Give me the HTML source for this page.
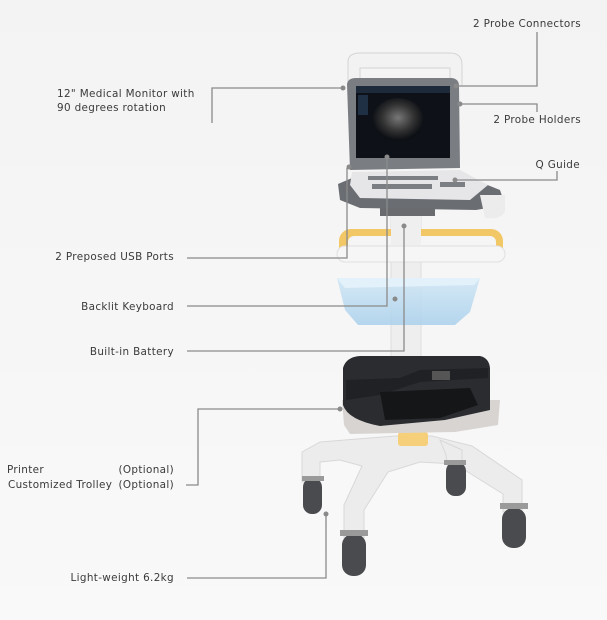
<!DOCTYPE html>
<html><head><meta charset="utf-8"><style>
html,body{margin:0;padding:0;background:#f4f4f4;}
svg{display:block;}
text{font-family:"DejaVu Sans","Liberation Sans",sans-serif;font-size:10.4px;fill:#3a3a3a;letter-spacing:0.35px;}
</style></head><body>
<svg width="607" height="620" viewBox="0 0 607 620" xmlns="http://www.w3.org/2000/svg">
<defs>
<linearGradient id="bg" x1="0" y1="0" x2="0" y2="1"><stop offset="0" stop-color="#f3f3f3"/><stop offset="1" stop-color="#f9f9f9"/></linearGradient>
<linearGradient id="blue" x1="0" y1="0" x2="0" y2="1"><stop offset="0" stop-color="#cfe6f5"/><stop offset="1" stop-color="#a9d0ec"/></linearGradient>
<radialGradient id="us" cx="0.5" cy="0.45" r="0.5"><stop offset="0" stop-color="#777"/><stop offset="0.6" stop-color="#333"/><stop offset="1" stop-color="#0d1015"/></radialGradient>
</defs>
<rect width="607" height="620" fill="url(#bg)"/>

<!-- base legs -->
<g fill="#ececec" stroke="#d8d8d8" stroke-width="1">
<path d="M395 436 L432 436 L472 446 L522 480 L522 512 L503 512 L503 494 L455 464 L420 462 L388 472 L364 510 L364 538 L344 538 L344 505 L362 466 L340 460 L320 462 L320 482 L302 482 L302 452 L320 442 Z"/>
<path d="M440 440 L462 450 L462 472 L448 472 L446 455 Z"/>
</g>
<rect x="398" y="432" width="30" height="14" rx="3" fill="#f6cf7a"/>
<!-- wheels -->
<g fill="#4a4b4e">
<rect x="303" y="478" width="19" height="36" rx="9"/>
<rect x="446" y="462" width="20" height="34" rx="9"/>
<rect x="342" y="534" width="24" height="42" rx="11"/>
<rect x="502" y="508" width="24" height="40" rx="11"/>
</g>
<g fill="#9a9a9a"><rect x="340" y="530" width="28" height="6"/><rect x="500" y="503" width="28" height="6"/><rect x="302" y="476" width="22" height="5"/><rect x="444" y="460" width="22" height="5"/></g>

<!-- column -->
<rect x="391" y="205" width="30" height="160" fill="#eeeeee" stroke="#dddddd"/>

<!-- printer tray -->
<path d="M342 400 L500 400 L498 425 L455 432 L350 434 L344 425 Z" fill="#d8d4d2"/>
<!-- printer -->
<path d="M343 368 Q346 357 360 356 L480 356 Q489 358 490 368 L490 410 L445 420 L380 426 Q348 420 343 405 Z" fill="#2b2c30"/>
<path d="M346 380 L400 378 L420 370 L488 368 L488 378 L420 382 L380 395 L346 400 Z" fill="#202124"/>
<path d="M380 392 L470 388 L478 405 L440 418 L385 420 Z" fill="#151618"/>
<rect x="432" y="371" width="18" height="9" fill="#555"/>

<!-- blue basket -->
<path d="M337 278 L480 278 L470 312 L455 325 L358 325 L345 310 Z" fill="url(#blue)" opacity="0.85"/>
<path d="M337 278 L480 278 L474 285 L345 288 Z" fill="#e3f1fb"/>

<!-- yellow handle ring -->
<rect x="339" y="229" width="164" height="32" rx="12" fill="#f2c766" />
<rect x="348" y="236" width="148" height="18" rx="6" fill="#f5f5f5"/>
<rect x="337" y="246" width="168" height="16" rx="8" fill="#f6f6f6" stroke="#e0e0e0"/>
<rect x="391" y="205" width="30" height="40" fill="#efefef"/>

<!-- keyboard base -->
<path d="M338 184 L352 178 L470 178 L500 190 L505 205 L476 210 L360 208 L340 200 Z" fill="#6a6d72"/>
<path d="M352 172 L460 170 L488 185 L470 200 L360 198 L350 185 Z" fill="#e6e6e8"/>
<g fill="#7b7e83"><rect x="368" y="176" width="70" height="4"/><rect x="372" y="184" width="60" height="5"/><rect x="440" y="182" width="25" height="5"/></g>
<rect x="380" y="208" width="55" height="8" fill="#6a6b6e"/>
<path d="M480 195 L505 195 L505 212 Q500 220 485 218 Z" fill="#ececec"/>

<!-- handle -->
<path d="M348 82 L348 62 Q348 53 360 53 L450 53 Q462 53 462 65 L462 86 L450 86 L450 68 L360 68 L360 82 Z" fill="#f2f2f2" stroke="#d4d4d4"/>
<!-- monitor -->
<path d="M347 84 Q348 78 356 78 L452 78 Q459 79 459 86 L460 168 L350 170 Z" fill="#7a7d82"/>
<rect x="356" y="86" width="94" height="72" fill="#0e1218"/>
<ellipse cx="398" cy="120" rx="26" ry="22" fill="url(#us)"/>
<rect x="356" y="86" width="94" height="7" fill="#1d2a3a"/>
<rect x="358" y="95" width="10" height="20" fill="#1f3045"/>

<!-- callout lines -->
<g fill="none" stroke="#8a8a8a" stroke-width="1.3">
<polyline points="537,32 537,86 456,86"/>
<polyline points="212,123 212,88 342,88"/>
<polyline points="461,104 537,104 537,112"/>
<polyline points="557,171 557,180 456,180"/>
<polyline points="187,258 347,258 347,168"/>
<polyline points="187,306 387,306 387,157"/>
<polyline points="187,351 404,351 404,226"/>
<polyline points="186,485 198,485 198,409 339,409"/>
<polyline points="187,578 326,578 326,515"/>
</g>
<g fill="#8a8a8a">
<circle cx="456" cy="86" r="2.5"/><circle cx="343" cy="88" r="2.5"/><circle cx="460" cy="104" r="2.5"/>
<circle cx="455" cy="180" r="2.5"/><circle cx="349" cy="167" r="2.5"/><circle cx="387" cy="157" r="2.5"/>
<circle cx="404" cy="226" r="2.5"/><circle cx="395" cy="299" r="2.5"/><circle cx="340" cy="409" r="2.5"/><circle cx="326" cy="514" r="2.5"/>
</g>

<!-- labels -->
<text x="581" y="27" text-anchor="end">2 Probe  Connectors</text>
<text x="57" y="97">12" Medical Monitor with</text>
<text x="57" y="111">90 degrees rotation</text>
<text x="581" y="123" text-anchor="end">2 Probe Holders</text>
<text x="580" y="168" text-anchor="end">Q Guide</text>
<text x="174" y="260" text-anchor="end">2 Preposed USB Ports</text>
<text x="174" y="310" text-anchor="end">Backlit Keyboard</text>
<text x="174" y="355" text-anchor="end">Built-in Battery</text>
<text x="7" y="473">Printer</text>
<text x="174" y="473" text-anchor="end">(Optional)</text>
<text x="8" y="488">Customized Trolley</text>
<text x="174" y="488" text-anchor="end">(Optional)</text>
<text x="174" y="581" text-anchor="end">Light-weight 6.2kg</text>
</svg>
</body></html>
